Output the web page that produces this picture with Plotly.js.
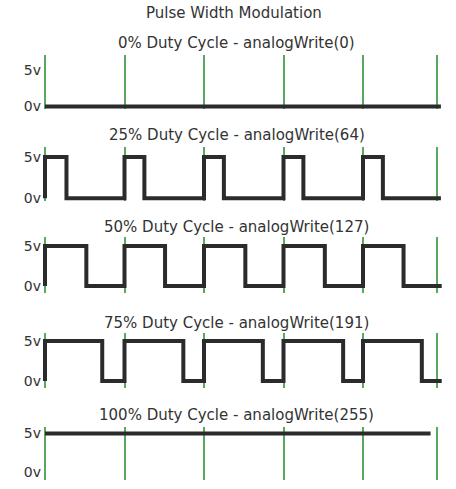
<!DOCTYPE html>
<html>
<head>
<meta charset="utf-8">
<script src="https://cdn.plot.ly/plotly-3.0.1.min.js"></script>
<style>html,body{margin:0;padding:0;background:#fff;}#chart{width:456px;height:489px;}</style>
</head>
<body>
<div id="chart"></div>
<script>
// ---- data ----
const mainTitle = 'Pulse Width Modulation';
const panelTitles = [
  '0% Duty Cycle - analogWrite(0)',
  '25% Duty Cycle - analogWrite(64)',
  '50% Duty Cycle - analogWrite(127)',
  '75% Duty Cycle - analogWrite(191)',
  '100% Duty Cycle - analogWrite(255)'
];
const levelTickVals = [0, 1];
const levelTickText = ['0v', '5v'];
const clockTicks = [0, 1, 2, 3, 4, 4.93];   // green period markers (in periods)

// transition times (periods) and level after each transition (0 = 0v, 1 = 5v)
const wave0Times   = [0, 4.98];
const wave0Levels  = [0, 0];
const wave25Times  = [0, 0, 0.27, 1, 1.25, 2, 2.25, 3, 3.25, 4, 4.25, 4.98];
const wave25Levels = [0, 1, 0,    1, 0,    1, 0,    1, 0,    1, 0,    0];
const wave50Times  = [0, 0, 0.52, 1, 1.51, 2, 2.52, 3, 3.52, 4, 4.51, 4.99];
const wave50Levels = [0, 1, 0,    1, 0,    1, 0,    1, 0,    1, 0,    0];
const wave75Times  = [0, 0, 0.72, 1, 1.74, 2, 2.74, 3, 3.75, 4, 4.74, 4.99];
const wave75Levels = [0, 1, 0,    1, 0,    1, 0,    1, 0,    1, 0,    0];
const wave100Times  = [0, 4.85];
const wave100Levels = [1, 1];

const waves = [
  [wave0Times, wave0Levels],
  [wave25Times, wave25Levels],
  [wave50Times, wave50Levels],
  [wave75Times, wave75Levels],
  [wave100Times, wave100Levels]
];

// ---- layout geometry (pixels) ----
const W = 456, H = 489;
const panels = [
  {T: 55,  B: 109, yH: 70,  yL: 106.5, ty: 43},
  {T: 147, B: 201, yH: 157, yL: 198.3, ty: 135},
  {T: 237, B: 293, yH: 246, yL: 286,   ty: 226.5},
  {T: 333, B: 388, yH: 341, yL: 381,   ty: 322.5},
  {T: 427, B: 480, yH: 433.5, yL: 472, ty: 415}
];
const xLeftPx = 40, x0Px = 45, pxPerPeriod = 79.5;
const xr0 = -(x0Px - xLeftPx) / pxPerPeriod;
const xr1 = xr0 + (W - xLeftPx) / pxPerPeriod;

const FONT = 'DejaVu Sans';
const traces = [];
const layout = {
  width: W, height: H, autosize: false,
  margin: {l: 0, r: 0, t: 0, b: 0, pad: 0},
  paper_bgcolor: '#fff', plot_bgcolor: '#fff',
  showlegend: false,
  font: {family: FONT, size: 12, color: '#333'},
  annotations: [{
    text: mainTitle, xref: 'paper', yref: 'paper',
    x: 234 / W, y: 1 - 12.5 / H, xanchor: 'center', yanchor: 'middle',
    showarrow: false, font: {family: FONT, size: 15, color: '#333'}
  }]
};

panels.forEach((p, i) => {
  const n = i === 0 ? '' : String(i + 1);
  const k = p.yL - p.yH;
  const lo = (p.yL - p.B) / k, hi = (p.yL - p.T) / k;
  traces.push({
    x: waves[i][0], y: waves[i][1], xaxis: 'x' + n, yaxis: 'y' + n,
    type: 'scatter', mode: 'lines', line: {shape: 'hv', color: '#2b2b2b', width: 4},
    hoverinfo: 'skip'
  });
  layout['xaxis' + n] = {
    domain: [xLeftPx / W, 1], range: [xr0, xr1], anchor: 'y' + n,
    tickmode: 'array', tickvals: clockTicks, showticklabels: false, ticks: '',
    showgrid: true, gridcolor: '#5aa860', gridwidth: 2,
    zeroline: false, showline: false, fixedrange: true
  };
  layout['yaxis' + n] = {
    domain: [1 - p.B / H, 1 - p.T / H], range: [lo, hi], anchor: 'x' + n,
    tickmode: 'array', tickvals: levelTickVals, ticktext: levelTickText,
    ticks: '', showgrid: false, zeroline: false, showline: false,
    ticklabelstandoff: -2,
    tickfont: {family: FONT, size: 14, color: '#333'}, fixedrange: true
  };
  layout.annotations.push({
    text: panelTitles[i], xref: 'paper', yref: 'paper',
    x: 236.7 / W, y: 1 - p.ty / H, xanchor: 'center', yanchor: 'middle',
    showarrow: false, font: {family: FONT, size: 15, color: '#333'}
  });
});

Plotly.newPlot('chart', traces, layout, {displayModeBar: false, staticPlot: true});
</script>
</body>
</html>
